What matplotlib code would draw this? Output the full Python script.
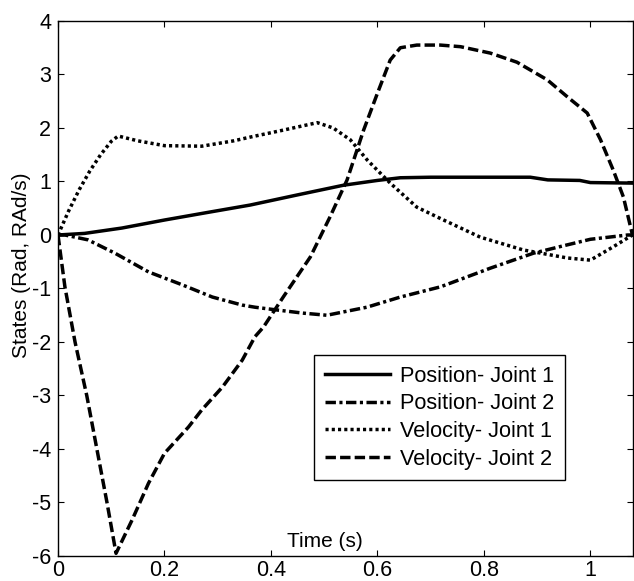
import matplotlib
matplotlib.use("Agg")
import matplotlib.pyplot as plt
import numpy as np

plt.rcParams['font.family'] = ['Liberation Sans', 'DejaVu Sans']
plt.rcParams['axes.unicode_minus'] = False

t_p1 = [0, 0.05, 0.12, 0.2, 0.28, 0.361, 0.45, 0.536, 0.6, 0.643, 0.7, 0.8, 0.887, 0.92, 0.98, 1.0, 1.08]
pos1 = [0, 0.03, 0.13, 0.28, 0.42, 0.56, 0.75, 0.93, 1.02, 1.07, 1.08, 1.08, 1.08, 1.03, 1.02, 0.98, 0.97]

t_p2 = [0, 0.013, 0.056, 0.107, 0.17, 0.233, 0.29, 0.346, 0.37, 0.41, 0.46, 0.505, 0.58, 0.643,
        0.718, 0.737, 0.812, 0.893, 0.95, 1.0, 1.07, 1.08]
pos2 = [0, 0, -0.09, -0.34, -0.69, -0.93, -1.16, -1.31, -1.35, -1.4, -1.46, -1.5, -1.35, -1.16,
        -0.97, -0.9, -0.62, -0.34, -0.2, -0.08, 0, 0]

t_v1 = [0, 0.02, 0.04, 0.06, 0.08, 0.1, 0.113, 0.15, 0.2, 0.27, 0.33, 0.361, 0.423, 0.487, 0.517,
        0.549, 0.581, 0.624, 0.674, 0.72, 0.793, 0.874, 0.957, 1.0, 1.043, 1.079]
vel1 = [0, 0.45, 0.85, 1.2, 1.5, 1.75, 1.85, 1.76, 1.67, 1.66, 1.76, 1.83, 1.96, 2.1, 2.0,
        1.78, 1.4, 0.97, 0.52, 0.3, -0.04, -0.28, -0.43, -0.47, -0.22, 0]

t_v2 = [0, 0.013, 0.032, 0.054, 0.073, 0.092, 0.109, 0.139, 0.17, 0.2, 0.245, 0.27, 0.309, 0.346,
        0.37, 0.386, 0.423, 0.474, 0.511, 0.543, 0.574, 0.6, 0.624, 0.643, 0.674, 0.718, 0.756,
        0.812, 0.862, 0.919, 0.957, 0.994, 1.019, 1.043, 1.062, 1.079]
vel2 = [0, -0.97, -2.0, -3.0, -4.0, -5.0, -5.95, -5.33, -4.64, -4.08, -3.59, -3.27, -2.84, -2.34,
        -1.9, -1.72, -1.16, -0.41, 0.34, 1.03, 1.96, 2.65, 3.27, 3.5, 3.55, 3.55, 3.52,
        3.4, 3.23, 2.9, 2.58, 2.28, 1.78, 1.21, 0.71, 0.0]

labels = ['Position- Joint 1', 'Position- Joint 2', 'Velocity- Joint 1', 'Velocity- Joint 2']

fig = plt.figure(figsize=(6.34, 5.81), dpi=100)
W, H = 634, 581
ax = fig.add_axes([58 / W, (H - 556) / H, 575 / W, 535 / H])

lw = 2.5
ax.plot(t_p1, pos1, color='black', lw=lw, linestyle='-', label=labels[0])
ax.plot(t_p2, pos2, color='black', lw=lw, linestyle=(0, (3.0, 1.0, 0.9, 1.0)), label=labels[1])
ax.plot(t_v1, vel1, color='black', lw=lw, linestyle=(0, (0.9, 0.9)), label=labels[2])
ax.plot(t_v2, vel2, color='black', lw=lw, linestyle=(0, (3.0, 1.2)), label=labels[3])

ax.set_xlim(0, 1.08)
ax.set_ylim(-6, 4)
ax.set_xticks([0, 0.2, 0.4, 0.6, 0.8, 1.0])
ax.set_xticklabels(['0', '0.2', '0.4', '0.6', '0.8', '1'])
ax.set_yticks(range(-6, 5))
ax.tick_params(direction='in', top=True, right=True, length=4, width=0.8,
               labelsize=15.5, pad=5)
ax.tick_params(axis='x', pad=3)
for s in ax.spines.values():
    s.set_linewidth(1.0)

fig.text(22 / W, 1 - 265 / H, 'States (Rad, RAd/s)', rotation=90, fontsize=15,
         ha='center', va='center')
ax.text((325 - 58) / 575, (556 - 547) / 535, 'Time (s)', transform=ax.transAxes, fontsize=15,
        ha='center', va='baseline')

leg = ax.legend(loc='upper left', bbox_to_anchor=((314 - 58) / 575, (556 - 355) / 535),
                fontsize=15.7, frameon=True, fancybox=False, framealpha=1, edgecolor='black',
                handlelength=3.0, handletextpad=0.45, labelspacing=0.3,
                borderpad=0.5, borderaxespad=0)
leg.get_frame().set_linewidth(1.0)

fig.savefig('out.png', dpi=100)
